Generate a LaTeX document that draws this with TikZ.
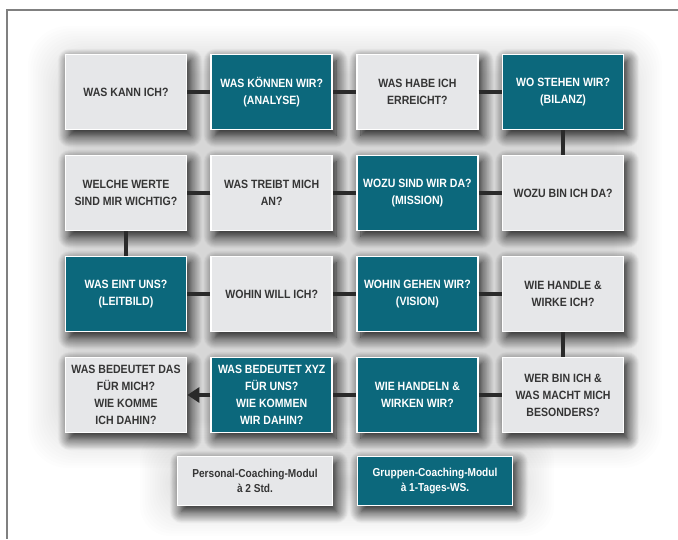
\documentclass[tikz,border=0pt]{standalone}
\usepackage{fontspec}
\setmainfont{Liberation Sans}[FakeStretch=0.88]
\usetikzlibrary{arrows.meta,shadows.blur}
\definecolor{petrol}{HTML}{0C687C}
\definecolor{boxgray}{HTML}{E6E7E9}
\definecolor{ink}{HTML}{353535}
\definecolor{linkgray}{HTML}{2A2A2A}
\definecolor{framegray}{HTML}{808080}
\tikzset{
  card/.style={rectangle, draw=white, line width=1.6pt, inner sep=2pt,
    minimum width=121pt, minimum height=75pt, align=center,
    font=\bfseries\fontsize{12}{17}\selectfont,
    blur shadow={shadow xshift=4pt, shadow yshift=-6pt, shadow blur radius=12pt,
      shadow blur steps=14, shadow opacity=95}},
  mine/.style={card, fill=boxgray, text=ink},
  ours/.style={card, fill=petrol, text=white},
  legendbox/.style={minimum width=155pt, minimum height=49pt,
    font=\bfseries\fontsize{11.5}{15}\selectfont},
  link/.style={draw=linkgray, line width=4pt}
}
\begin{document}
\begin{tikzpicture}[x=1pt,y=-1pt]
  \useasboundingbox (0,0) rectangle (678,539);
  % frame
  \draw[framegray, line width=2pt] (678,10) -- (7,10) -- (7,539);
  % soft haze behind the grid, built up ring by ring
  \foreach \k in {0,...,19}{%
    \fill[black, opacity=0.009, rounded corners=40pt]
      (28+2.5*\k,26+2.5*\k) rectangle (662-2.5*\k,468-2.5*\k);
    \fill[black, opacity=0.009, rounded corners=30pt]
      (140+2.5*\k,430+2.5*\k) rectangle (554-2.5*\k,536-2.5*\k);
  }
  % the question cards, column/row in the grid
  \foreach \name/\kind/\col/\row/\txt in {
      wasKann/mine/1/1/{WAS KANN ICH?},
      wasKoennen/ours/2/1/{WAS KÖNNEN WIR?\\(ANALYSE)},
      wasHabe/mine/3/1/{WAS HABE ICH\\ERREICHT?},
      woStehen/ours/4/1/{WO STEHEN WIR?\\(BILANZ)},
      welcheWerte/mine/1/2/{WELCHE WERTE\\SIND MIR WICHTIG?},
      wasTreibt/mine/2/2/{WAS TREIBT MICH\\AN?},
      wozuSind/ours/3/2/{WOZU SIND WIR DA?\\(MISSION)},
      wozuBin/mine/4/2/{WOZU BIN ICH DA?},
      wasEint/ours/1/3/{WAS EINT UNS?\\(LEITBILD)},
      wohinWill/mine/2/3/{WOHIN WILL ICH?},
      wohinGehen/ours/3/3/{WOHIN GEHEN WIR?\\(VISION)},
      wieHandle/mine/4/3/{WIE HANDLE \&\\WIRKE ICH?},
      wasDas/mine/1/4/{WAS BEDEUTET DAS\\FÜR MICH?\\WIE KOMME\\ICH DAHIN?},
      wasXyz/ours/2/4/{WAS BEDEUTET XYZ\\FÜR UNS?\\WIE KOMMEN\\WIR DAHIN?},
      wieHandeln/ours/3/4/{WIE HANDELN \&\\WIRKEN WIR?},
      werBin/mine/4/4/{WER BIN ICH \&\\WAS MACHT MICH\\BESONDERS?}}{%
    \node[\kind] (\name) at ({126+145.7*(\col-1)},{92+101*(\row-1)}) {\txt};
  }
  % legend
  \node[mine, legendbox] (legPers) at (255,481) {Personal-Coaching-Modul\\à 2 Std.};
  \node[ours, legendbox] (legGrp) at (435,481) {Gruppen-Coaching-Modul\\à 1-Tages-WS.};
  % the path through the cards
  \foreach \a/\b in {wasKann/wasKoennen, wasKoennen/wasHabe, wasHabe/woStehen,
      woStehen/wozuBin, wozuBin/wozuSind, wozuSind/wasTreibt, wasTreibt/welcheWerte,
      welcheWerte/wasEint, wasEint/wohinWill, wohinWill/wohinGehen,
      wohinGehen/wieHandle, wieHandle/werBin, werBin/wieHandeln,
      wieHandeln/wasXyz}{%
    \draw[link] (\a) -- (\b);
  }
  \draw[link, -{Triangle[length=12pt,width=15pt]}] (wasXyz) -- (wasDas);
\end{tikzpicture}
\end{document}
